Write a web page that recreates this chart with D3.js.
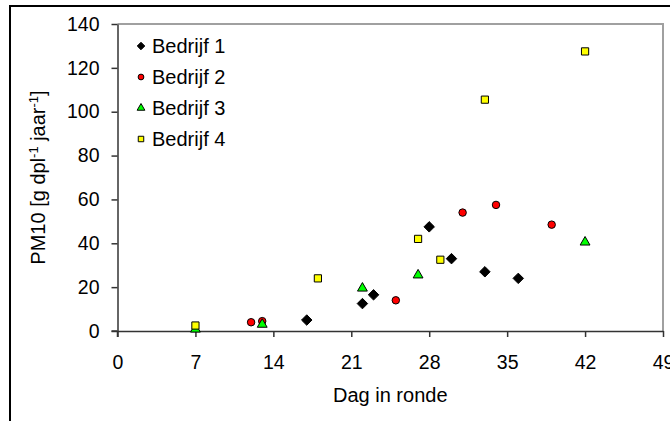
<!DOCTYPE html>
<html>
<head>
<meta charset="utf-8">
<script src="https://cdn.jsdelivr.net/npm/d3@7"></script>
<style>
  body { margin: 0; background: #fff; }
  svg { display: block; font-family: "Liberation Sans", Arial, sans-serif; }
</style>
</head>
<body>
<svg id="chart" width="670" height="421"></svg>
<script>
// ---- data ----
const seriesNames = ["Bedrijf 1", "Bedrijf 2", "Bedrijf 3", "Bedrijf 4"];
const bedrijf1 = [[17, 5], [22, 12.5], [23, 16.5], [28, 47.5], [30, 33], [33, 27], [36, 24]];
const bedrijf2 = [[12, 4], [13, 4.5], [25, 14], [31, 54], [34, 57.5], [39, 48.5]];
const bedrijf3 = [[7, 0.8], [13, 3], [22, 19.5], [27, 25.5], [42, 40.5]];
const bedrijf4 = [[7, 2.5], [18, 24], [27, 42], [29, 32.5], [33, 105.5], [42, 127.5]];
const xTicks = [0, 7, 14, 21, 28, 35, 42, 49];
const yTicks = [0, 20, 40, 60, 80, 100, 120, 140];
const xTitle = "Dag in ronde";

const series = [
  { name: seriesNames[0], data: bedrijf1, symbol: d3.symbolDiamond2, fill: "#000000", size: 70, lsize: 36 },
  { name: seriesNames[1], data: bedrijf2, symbol: d3.symbolCircle, fill: "#FF0000", size: 44, lsize: 26 },
  { name: seriesNames[2], data: bedrijf3, symbol: d3.symbolTriangle, fill: "#00FF00", size: 42, lsize: 26 },
  { name: seriesNames[3], data: bedrijf4, symbol: d3.symbolSquare, fill: "#FFFF00", size: 52, lsize: 30 }
];

const svg = d3.select("#chart");
const L = 117.5, T = 24, R = 663, B = 331;

const x = d3.scaleLinear().domain([0, 49]).range([L, R]);
const y = d3.scaleLinear().domain([0, 140]).range([B, T]);

// outer chart border
svg.append("rect").attr("x", 10).attr("y", 6).attr("width", 700).attr("height", 500)
  .attr("fill", "none").attr("stroke", "#000").attr("stroke-width", 2);

// plot area border (top & right, gray)
svg.append("path")
  .attr("d", `M${L},${T}H${R}V${B}`)
  .attr("fill", "none").attr("stroke", "#a0a0a0").attr("stroke-width", 2);

const axisColor = "#333";
const gx = svg.append("g").attr("transform", `translate(0,${B})`)
  .call(d3.axisBottom(x).tickValues(xTicks).tickSize(6).tickSizeOuter(0).tickPadding(18));
const gy = svg.append("g").attr("transform", `translate(${L},0)`)
  .call(d3.axisLeft(y).tickValues(yTicks).tickSize(6).tickSizeOuter(0).tickPadding(12));
[gx, gy].forEach(g => {
  g.select(".domain").attr("stroke", axisColor).attr("stroke-width", 1.5);
  g.selectAll(".tick line").attr("stroke", axisColor).attr("stroke-width", 1.5);
  g.selectAll(".tick text").attr("fill", "#000").style("font-size", "19.5px")
    .style("font-family", '"Liberation Sans", Arial, sans-serif');
});
// crossing stubs at the origin
svg.append("line").attr("x1", L).attr("x2", L).attr("y1", B).attr("y2", B + 6)
  .attr("stroke", axisColor).attr("stroke-width", 1.5);
svg.append("line").attr("x1", L - 6).attr("x2", L).attr("y1", B).attr("y2", B)
  .attr("stroke", axisColor).attr("stroke-width", 1.5);

// x title
svg.append("text").attr("x", (L + R) / 2).attr("y", 402)
  .attr("text-anchor", "middle").style("font-size", "20px").text(xTitle);

// y title with superscripts
const yt = svg.append("text")
  .attr("transform", `translate(45,${(T + B) / 2}) rotate(-90)`)
  .attr("text-anchor", "middle").style("font-size", "20px");
yt.append("tspan").text("PM10 [g dpl");
yt.append("tspan").attr("baseline-shift", "super").style("font-size", "13px").text("-1");
yt.append("tspan").text(" jaar");
yt.append("tspan").attr("baseline-shift", "super").style("font-size", "13px").text("-1");
yt.append("tspan").text("]");

// points
series.forEach(s => {
  svg.append("g").selectAll("path").data(s.data).join("path")
    .attr("transform", d => `translate(${x(d[0])},${y(d[1])})`)
    .attr("d", d3.symbol().type(s.symbol).size(s.size))
    .attr("fill", s.fill).attr("stroke", "#000").attr("stroke-width", 1);
});

// legend
const leg = svg.append("g");
series.forEach((s, i) => {
  const cy = 46 + i * 31;
  leg.append("path").attr("transform", `translate(141,${cy})`)
    .attr("d", d3.symbol().type(s.symbol).size(s.lsize))
    .attr("fill", s.fill).attr("stroke", "#000").attr("stroke-width", 1);
  leg.append("text").attr("x", 152).attr("y", cy + 7).style("font-size", "20px").text(s.name);
});
</script>
</body>
</html>
